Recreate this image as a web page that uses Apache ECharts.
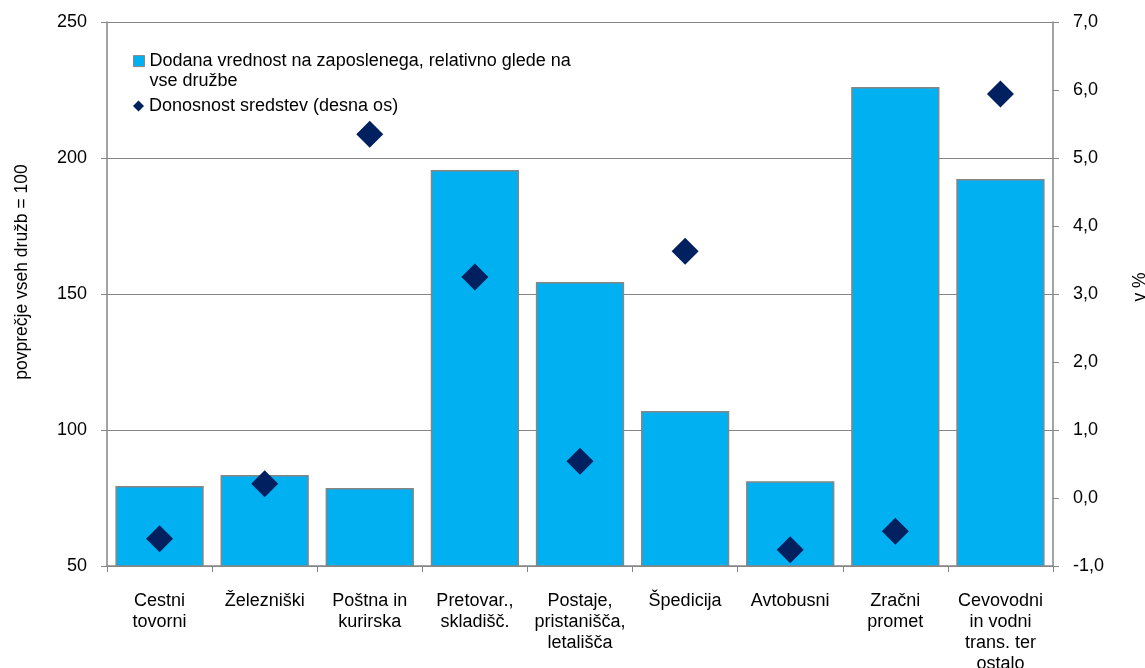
<!DOCTYPE html>
<html lang="sl">
<head>
    <meta charset="UTF-8">
    <title>Dodana vrednost in donosnost sredstev</title>
    <script src="https://cdn.jsdelivr.net/npm/echarts@6/dist/echarts.min.js"></script>
    <style>
        html, body { margin: 0; padding: 0; background: #fff; }
        #main { width: 1145px; height: 668px; }
    </style>
</head>
<body>
<div id="main"></div>
<script>
    var categories = ['Cestni\ntovorni', 'Železniški', 'Poštna in\nkurirska', 'Pretovar.,\nskladišč.',
        'Postaje,\npristanišča,\nletališča', 'Špedicija', 'Avtobusni', 'Zračni\npromet',
        'Cevovodni\nin vodni\ntrans. ter\nostalo'];
    var dodanaVrednost = [79.4, 83.5, 78.7, 195.6, 154.4, 107, 81.2, 226.1, 192.3];
    var donosnost = [-0.6, 0.21, 5.35, 3.25, 0.54, 3.63, -0.76, -0.49, 5.94];
    var leftTicks = { min: 50, max: 250, interval: 50 };
    var rightTicks = { min: -1, max: 7, interval: 1 };

    var barName = 'Dodana vrednost na zaposlenega, relativno glede na vse družbe';
    var dotName = 'Donosnost sredstev (desna os)';
    var font = '"Liberation Sans", Arial, sans-serif';
    var grey = '#868686';

    // square on top, empty point below -> icon lines up with the first text line
    var topSquare = 'path://M0,0L10,0L10,10L0,10Z M0,28L0,28';

    var myChart = echarts.init(document.getElementById('main'));
    myChart.setOption({
        animation: false,
        textStyle: { fontFamily: font },
        grid: { left: 107, right: 92, top: 22, bottom: 102, outerBoundsMode: 'none', containLabel: false },
        legend: [{
            data: [{ name: barName, icon: topSquare, itemStyle: { borderColor: grey, borderWidth: 1 } }],
            left: 128, top: 46,
            itemWidth: 11, itemHeight: 31,
            formatter: function () { return 'Dodana vrednost na zaposlenega, relativno glede na\nvse družbe'; },
            textStyle: { fontSize: 18, color: '#000', lineHeight: 20 }
        }, {
            data: [{ name: dotName, icon: 'diamond', itemStyle: { opacity: 1 } }],
            left: 128, top: 91,
            itemWidth: 11, itemHeight: 11,
            textStyle: { fontSize: 18, color: '#000', lineHeight: 20 }
        }],
        xAxis: {
            type: 'category',
            data: categories,
            axisLine: { onZero: false, lineStyle: { color: grey, width: 1.5 } },
            axisTick: { show: true, length: 6, lineStyle: { color: grey } },
            axisLabel: { color: '#000', fontSize: 18, lineHeight: 21, margin: 25, interval: 0 }
        },
        yAxis: [{
            type: 'value',
            min: leftTicks.min, max: leftTicks.max, interval: leftTicks.interval,
            name: 'povprečje vseh družb = 100',
            nameLocation: 'middle', nameRotate: 90, nameGap: 76,
            nameTextStyle: { color: '#000', fontSize: 17.5, padding: [0, 0, 0, 44] },
            axisLine: { show: true, lineStyle: { color: grey, width: 1.5 } },
            axisTick: { show: true, length: 6, lineStyle: { color: grey } },
            axisLabel: { color: '#000', fontSize: 18, margin: 20 },
            splitLine: { lineStyle: { color: grey, width: 1 } }
        }, {
            type: 'value',
            min: rightTicks.min, max: rightTicks.max, interval: rightTicks.interval,
            name: 'v %',
            nameLocation: 'middle', nameRotate: 90, nameGap: 78,
            nameTextStyle: { color: '#000', fontSize: 17.5, padding: [0, 0, 0, 14] },
            axisLine: { show: true, lineStyle: { color: grey, width: 1.5 } },
            axisTick: { show: true, length: 6, lineStyle: { color: grey } },
            axisLabel: {
                color: '#000', fontSize: 18, margin: 20,
                formatter: function (v) { return v.toFixed(1).replace('.', ','); }
            },
            splitLine: { show: false }
        }],
        series: [{
            name: barName,
            type: 'bar',
            data: dodanaVrednost,
            barCategoryGap: '16%',
            itemStyle: { color: '#00b0f0', borderColor: grey, borderWidth: 1.5 }
        }, {
            name: dotName,
            type: 'scatter',
            yAxisIndex: 1,
            data: donosnost,
            symbol: 'diamond',
            symbolSize: 27,
            itemStyle: { color: '#002060', opacity: 1 },
            z: 5
        }]
    });
</script>
</body>
</html>
